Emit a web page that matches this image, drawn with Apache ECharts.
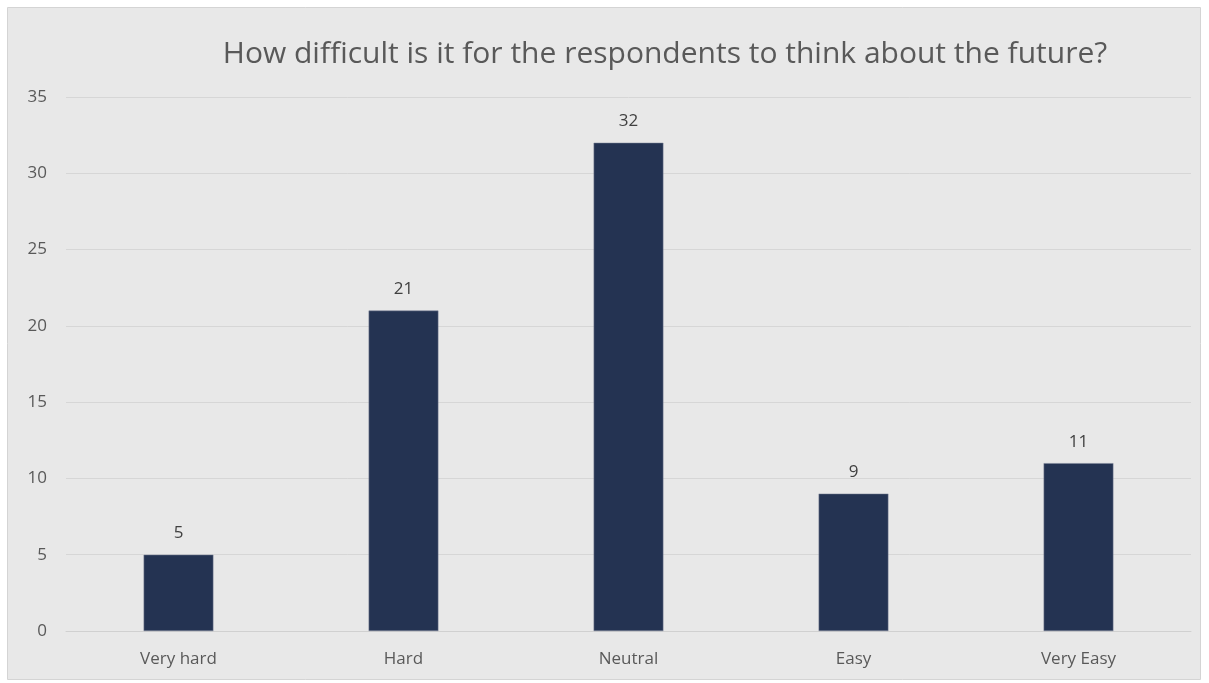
<!DOCTYPE html>
<html><head><meta charset="utf-8">
<script src="https://cdn.jsdelivr.net/npm/echarts@6/dist/echarts.min.js"></script>
<style>html,body{margin:0;padding:0;background:#fff}#c{width:1209px;height:683px}</style>
</head><body><div id="c"></div>
<script>
const categories = ['Very hard', 'Hard', 'Neutral', 'Easy', 'Very Easy'];
const values = [5, 21, 32, 9, 11];
const titleText = 'How difficult is it for the respondents to think about the future?';

const chart = echarts.init(document.getElementById('c'));
chart.setOption({
  backgroundColor: '#ffffff',
  animation: false,
  graphic: [{
    type: 'rect', z: -10, silent: true,
    shape: { x: 7.5, y: 7.5, width: 1193, height: 672 },
    style: { fill: '#e8e8e8', stroke: '#d4d4d4', lineWidth: 1 }
  }],
  title: {
    text: titleText, left: 660, top: 34, textAlign: 'center',
    textStyle: { fontFamily: 'Open Sans', fontSize: 30, fontWeight: 'normal', color: '#595959' }
  },
  grid: { left: 66, right: 18, top: 97, bottom: 52, containLabel: false },
  xAxis: {
    type: 'category', data: categories,
    axisLine: { show: true, lineStyle: { color: '#d0d0d0' } },
    axisTick: { show: false },
    axisLabel: { color: '#595959', fontFamily: 'Open Sans', fontSize: 17, margin: 20 }
  },
  yAxis: {
    type: 'value', min: 0, max: 35, interval: 5,
    axisLine: { show: false }, axisTick: { show: false },
    axisLabel: { color: '#595959', fontFamily: 'Open Sans', fontSize: 17, margin: 19, align: 'right' },
    splitLine: { lineStyle: { color: '#d6d6d6', width: 1 } }
  },
  series: [{
    type: 'bar', data: values, barWidth: '31%',
    itemStyle: { color: '#243352', borderColor: '#7a8396', borderWidth: 0.5 },
    label: { show: true, position: 'top', distance: 13, color: '#404040', fontFamily: 'Open Sans', fontSize: 17 }
  }]
});
</script></body></html>
